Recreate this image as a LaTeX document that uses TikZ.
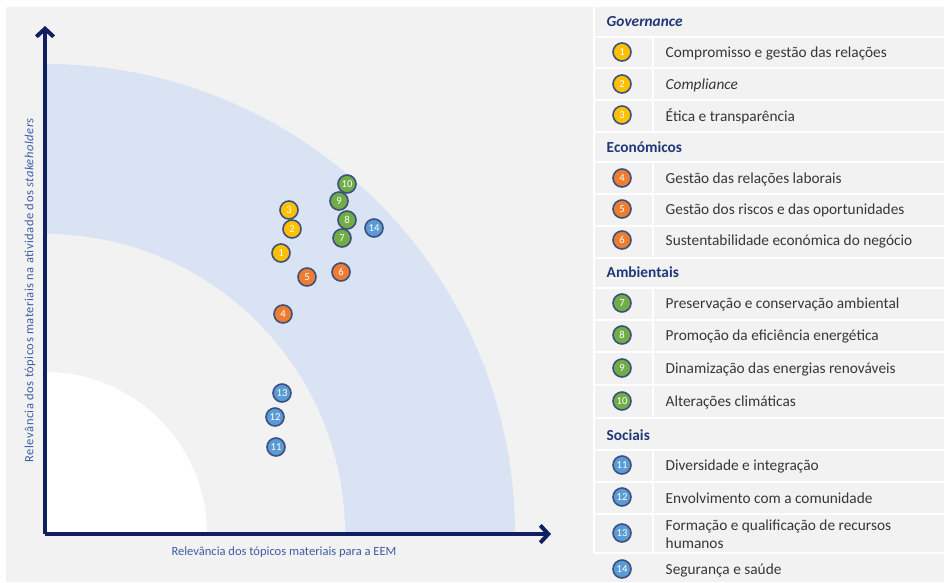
\documentclass[tikz,border=0pt]{standalone}
\usepackage{fontspec}
\setmainfont{Carlito}
\usetikzlibrary{arrows.meta}
\definecolor{fond}{RGB}{242,242,242}
\definecolor{bande}{RGB}{218,227,243}
\definecolor{axe}{RGB}{14,32,96}
\definecolor{etiq}{RGB}{62,92,165}
\definecolor{titre}{RGB}{32,56,120}
\definecolor{texte}{RGB}{55,55,55}
\definecolor{contour}{RGB}{60,80,125}
\definecolor{jaune}{RGB}{255,192,0}
\definecolor{orange}{RGB}{237,125,49}
\definecolor{vert}{RGB}{112,173,71}
\definecolor{bleu}{RGB}{91,155,213}
\tikzset{
  bulle/.style={circle,draw=contour,line width=1.2pt,inner sep=0pt,minimum size=13.5pt,
    text=white,font=\fontsize{8}{8}\selectfont},
  entete/.style={anchor=west,text=titre,font=\fontsize{11.5}{13}\selectfont\bfseries},
  item/.style={anchor=west,text=texte,font=\fontsize{11.5}{13.5}\selectfont,align=left},
  separ/.style={white,line width=1.5pt}
}
\begin{document}
\begin{tikzpicture}[x=0.75pt,y=-0.75pt]
\useasboundingbox (0,0) rectangle (944,582);
\fill[white] (0,0) rectangle (944,582);
\fill[fond] (6,7) rectangle (944,582);
% zones de materialite
\coordinate (O) at (45,534);
\fill[bande] (O) -- ++(470,0) arc[start angle=0,end angle=-90,radius=470] -- cycle;
\fill[fond] (O) -- ++(300,0) arc[start angle=0,end angle=-90,radius=300] -- cycle;
\fill[white] (O) -- ++(162,0) arc[start angle=0,end angle=-90,radius=162] -- cycle;
% axes
\coordinate (Xmax) at (551,534);
\coordinate (Ymax) at (45,26);
\draw[axe,line width=3pt,-{Straight Barb[length=6pt,width=13pt]}] (O) -- (Xmax);
\draw[axe,line width=3pt,-{Straight Barb[length=6pt,width=13pt]}] (O) -- (Ymax);
\node[text=etiq,font=\fontsize{9.4}{9.4}\selectfont] (labx) at (284,552) {Relevância dos tópicos materiais para a EEM};
\node[text=etiq,font=\fontsize{9.4}{9.4}\selectfont\addfontfeatures{LetterSpace=4},rotate=90] (laby) at (30,290) {Relevância dos tópicos materiais na atividade dos \textit{stakeholders}};
% topicos
\node[bulle,fill=jaune] (t1) at (281,253) {1};
\node[bulle,fill=jaune] (t2) at (292,229) {2};
\node[bulle,fill=jaune] (t3) at (289,210) {3};
\node[bulle,fill=orange] (t4) at (283,314) {4};
\node[bulle,fill=orange] (t5) at (307,277) {5};
\node[bulle,fill=orange] (t6) at (341,272) {6};
\node[bulle,fill=vert] (t7) at (342,238) {7};
\node[bulle,fill=vert] (t8) at (347,220) {8};
\node[bulle,fill=vert] (t9) at (339,201) {9};
\node[bulle,fill=vert] (t10) at (347,184) {10};
\node[bulle,fill=bleu] (t11) at (276,447) {11};
\node[bulle,fill=bleu] (t12) at (275,417) {12};
\node[bulle,fill=bleu] (t13) at (282,393) {13};
\node[bulle,fill=bleu] (t14) at (374,228) {14};
% legenda
\draw[separ] (594,7) -- (594,553);
\foreach \y in {37,68,100,132,162,194,226,258,288,320,352,385,418,450,482,514,553}
  \draw[separ] (594,\y) -- (944,\y);
\draw[separ] (653,37) -- (653,132);
\draw[separ] (653,162) -- (653,258);
\draw[separ] (653,288) -- (653,418);
\draw[separ] (653,450) -- (653,553);
\node[entete] (gov) at (602,22) {\textit{Governance}};
\node[bulle,fill=jaune] (l1) at (622,52) {1};
\node[item] (d1) at (661,53) {Compromisso e gestão das relações};
\node[bulle,fill=jaune] (l2) at (622,84) {2};
\node[item] (d2) at (661,85) {\textit{Compliance}};
\node[bulle,fill=jaune] (l3) at (622,115) {3};
\node[item] (d3) at (661,116) {Ética e transparência};
\node[entete] (eco) at (602,147) {Económicos};
\node[bulle,fill=orange] (l4) at (622,178) {4};
\node[item] (d4) at (661,179) {Gestão das relações laborais};
\node[bulle,fill=orange] (l5) at (622,209) {5};
\node[item] (d5) at (661,210) {Gestão dos riscos e das oportunidades};
\node[bulle,fill=orange] (l6) at (622,240) {6};
\node[item] (d6) at (661,241) {Sustentabilidade económica do negócio};
\node[entete] (amb) at (602,272) {Ambientais};
\node[bulle,fill=vert] (l7) at (622,303) {7};
\node[item] (d7) at (661,304) {Preservação e conservação ambiental};
\node[bulle,fill=vert] (l8) at (622,335) {8};
\node[item] (d8) at (661,336) {Promoção da eficiência energética};
\node[bulle,fill=vert] (l9) at (622,368) {9};
\node[item] (d9) at (661,369) {Dinamização das energias renováveis};
\node[bulle,fill=vert] (l10) at (622,401) {10};
\node[item] (d10) at (661,402) {Alterações climáticas};
\node[entete] (soc) at (602,435) {Sociais};
\node[bulle,fill=bleu] (l11) at (622,465) {11};
\node[item] (d11) at (661,466) {Diversidade e integração};
\node[bulle,fill=bleu] (l12) at (622,497) {12};
\node[item] (d12) at (661,498) {Envolvimento com a comunidade};
\node[bulle,fill=bleu] (l13) at (622,533) {13};
\node[item] (d13) at (661,534) {Formação e qualificação de recursos\\humanos};
\node[bulle,fill=bleu] (l14) at (622,569) {14};
\node[item] (d14) at (661,570) {Segurança e saúde};
\end{tikzpicture}
\end{document}
